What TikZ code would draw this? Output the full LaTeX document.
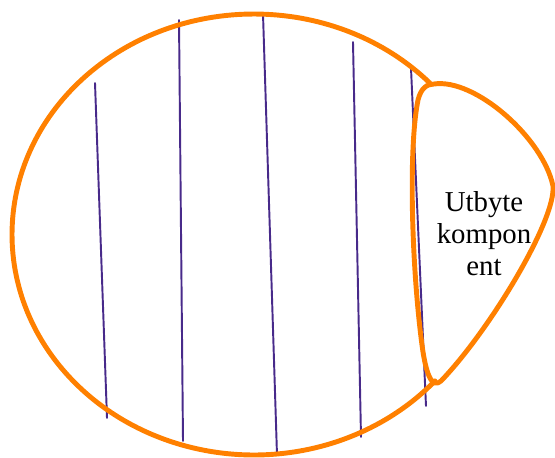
\documentclass[tikz,border=0pt]{standalone}
\usepackage{fontspec}
\setmainfont{Liberation Serif}
\definecolor{rimorange}{RGB}{255,128,0}
\definecolor{stripe}{RGB}{72,42,138}
\begin{document}
\begin{tikzpicture}[x=0.02cm,y=-0.02cm,line cap=round,line join=round]
  \useasboundingbox (0,0) rectangle (555,457);
  % stripes
  \draw[stripe,line width=1.1pt] (95,83) -- (107,418);
  \draw[stripe,line width=1.1pt] (179,20) -- (183,441);
  \draw[stripe,line width=1.1pt] (263,14) -- (277,455);
  \draw[stripe,line width=1.1pt] (353,42) -- (361,437);
  \draw[stripe,line width=1.1pt] (411,68) -- (426,406);
  % main body, open on the right
  \draw[rimorange,line width=2.8pt] (254,234.5) ++(43.4:242 and -220.5)
    arc[start angle=43.4,end angle=318.4,x radius=242,y radius=-220.5];
  % replaceable part
  \draw[rimorange,line width=2.8pt] (434,84)
    .. controls (475,78) and (543,138) .. (553,186)
    .. controls (556,220) and (490,330) .. (441,381)
    .. controls (432,389) and (426,375) .. (422,345)
    .. controls (412,270) and (408,150) .. (418,100)
    .. controls (421,88) and (427,84) .. cycle;
  \node[align=center,font=\fontsize{16.4}{18.2}\selectfont] (utbyte) at (484,234)
    {Utbyte\\kompon\\ent};
\end{tikzpicture}
\end{document}
